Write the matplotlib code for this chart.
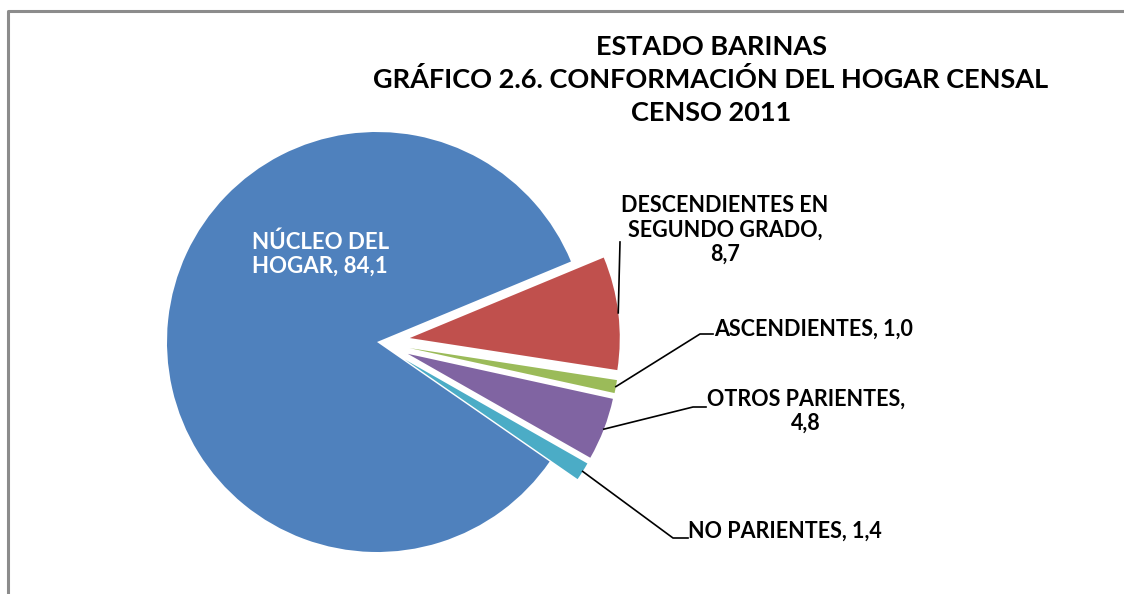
import math
import matplotlib
matplotlib.use("Agg")
import matplotlib.pyplot as plt

categories = ["NÚCLEO DEL\nHOGAR, 84,1", "DESCENDIENTES EN\nSEGUNDO GRADO,\n8,7",
              "ASCENDIENTES, 1,0", "OTROS PARIENTES,\n4,8", "NO PARIENTES, 1,4"]
values = [84.1, 8.7, 1.0, 4.8, 1.4]
colors = ["#4F81BD", "#C0504D", "#9BBB59", "#8064A2", "#4BACC6"]
title_lines = ["ESTADO BARINAS", "GRÁFICO 2.6. CONFORMACIÓN DEL HOGAR CENSAL", "CENSO 2011"]

W, H = 1124, 594
fig = plt.figure(figsize=(W / 100, H / 100), dpi=100)
ax = fig.add_axes([0, 0, 1, 1])

def py(y):  # pixel-from-top to data
    return H - y

FONT = ["Lato", "DejaVu Sans"]
R = 210
wedges, _ = ax.pie(values, colors=colors, startangle=-34.7, counterclock=False,
                   explode=[0, 33, 33, 33, 33], radius=R, center=(377, py(342)),
                   wedgeprops=dict(linewidth=0))
ax.set_xlim(0, W)
ax.set_ylim(0, H)
ax.set_aspect("equal")
ax.axis("off")

# frame
ax.plot([8, 8, W], [0, py(11), py(11)], color="#8c8c8c", lw=2.2, solid_capstyle="butt")

# title
for i, t in enumerate(title_lines):
    ax.text(711, py(47 + i * 33), t, ha="center", va="center", fontsize=19.5,
            fontweight="bold", family=FONT, color="black")

# center label
ax.text(252, py(254), categories[0], ha="left", va="center", fontsize=16,
        fontweight="bold", family=FONT, color="white", linespacing=1.2)

def arc_mid(w):
    tm = math.radians((w.theta1 + w.theta2) / 2)
    cx, cy = w.center
    return cx + w.r * math.cos(tm), cy + w.r * math.sin(tm)

lab_kw = dict(fontsize=15.5, fontweight="bold", family=FONT, color="black", linespacing=1.2)

# red
x0, y0 = arc_mid(wedges[1])
ax.plot([x0, 620], [y0, py(242)], color="black", lw=1.2)
ax.text(725, py(230), categories[1], ha="center", va="center", multialignment="center", **lab_kw)

# green
x0, y0 = arc_mid(wedges[2])
ax.plot([x0, 700, 713], [y0, py(334), py(334)], color="black", lw=1.2)
ax.text(714, py(329), categories[2], ha="left", va="center", **lab_kw)

# purple
x0, y0 = arc_mid(wedges[3])
ax.plot([x0, 693, 706], [y0, py(407), py(407)], color="black", lw=1.2)
ax.text(806, py(411), categories[3], ha="center", va="center", multialignment="center", **lab_kw)

# cyan
x0, y0 = arc_mid(wedges[4])
ax.plot([x0, 673, 688], [y0, py(538), py(538)], color="black", lw=1.2)
ax.text(688, py(531), categories[4], ha="left", va="center", **lab_kw)

fig.savefig("out.png", dpi=100)
